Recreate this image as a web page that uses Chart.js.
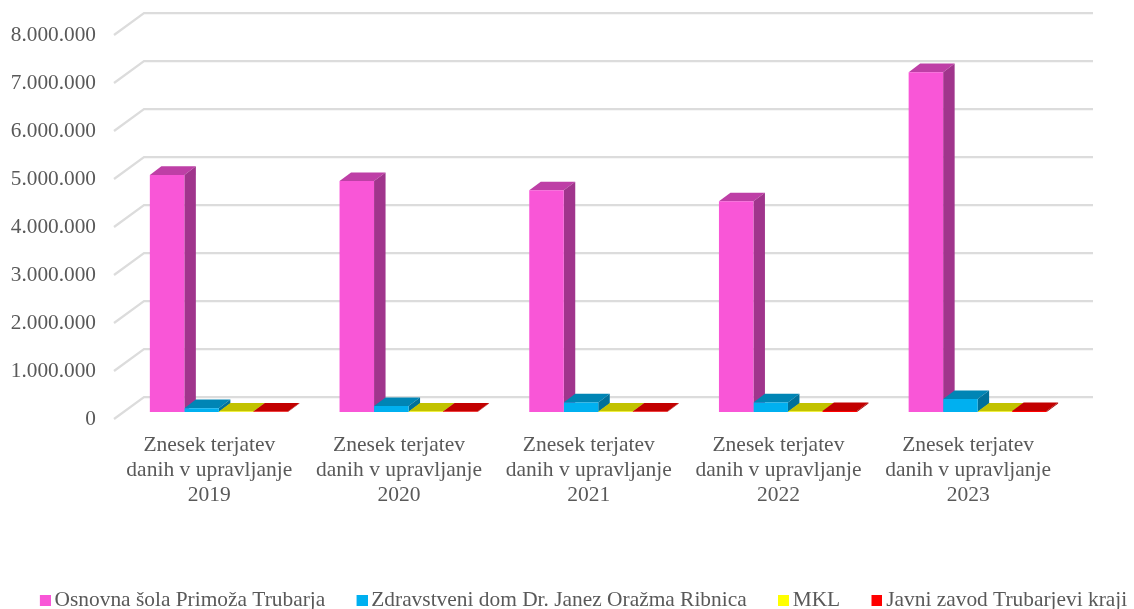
<!DOCTYPE html>
<html><head><meta charset="utf-8">
<style>html,body{margin:0;padding:0;background:#fff}canvas{display:block}</style>
<script src="https://cdn.jsdelivr.net/npm/chart.js@4"></script>
</head><body><canvas id="c" width="1134" height="609"></canvas>
<script>
const categories = [
  ['Znesek terjatev','danih v upravljanje','2019'],
  ['Znesek terjatev','danih v upravljanje','2020'],
  ['Znesek terjatev','danih v upravljanje','2021'],
  ['Znesek terjatev','danih v upravljanje','2022'],
  ['Znesek terjatev','danih v upravljanje','2023']
];
const seriesNames = ['Osnovna šola Primoža Trubarja','Zdravstveni dom Dr. Janez Oražma Ribnica','MKL','Javni zavod Trubarjevi kraji'];
const osnovnaSola = [4940000,4810000,4620000,4390000,7080000];
const zdravstveniDom = [80000,125000,200000,200000,270000];
const mkl = [8000,8000,8000,8000,8000];
const javniZavod = [8000,8000,8000,20000,20000];
const frontColors = ['#F956D7','#00B0F0','#FFFF00','#FF0000'];
const topColors = ['#BE3FA6','#0085B5','#C2C200','#C20000'];
const sideColors = ['#A0358C','#00709A','#A3A300','#A30000'];
const DEPTH_X = 11.5, DEPTH_Y = -8.6;

function swatch(color){
  const cv = document.createElement('canvas');
  cv.width = 14; cv.height = 11;
  const g = cv.getContext('2d');
  g.fillStyle = color;
  g.fillRect(3,0,11,11);
  return cv;
}

const threeD = {
  id:'threeD',
  afterLayout(chart){
    const lg = chart.legend;
    lg.maxWidth = 1400;
    lg.fit();
    lg.left = -229; lg.right = 1400;
    lg.top = 590 - lg.options.labels.padding;
    chart.scales.x.bottom = 570;
  },
  beforeDatasetsDraw(chart){
    const y = chart.scales.y, ctx = chart.ctx;
    ctx.save();
    ctx.strokeStyle = '#DCDCDC';
    ctx.lineWidth = 2.25;
    y.ticks.forEach(t => {
      const p = y.getPixelForValue(t.value);
      ctx.beginPath();
      ctx.moveTo(114, p + 7);
      ctx.lineTo(144, p - 15);
      ctx.lineTo(1093, p - 15);
      ctx.stroke();
    });
    chart.data.datasets.forEach((ds,i) => {
      chart.getDatasetMeta(i).data.forEach(b => {
        const l = b.x - b.width/2, r = b.x + b.width/2, t = b.y, bt = b.base;
        ctx.fillStyle = topColors[i];
        ctx.beginPath();
        ctx.moveTo(l,t); ctx.lineTo(l+DEPTH_X,t+DEPTH_Y); ctx.lineTo(r+DEPTH_X,t+DEPTH_Y); ctx.lineTo(r,t);
        ctx.closePath(); ctx.fill();
        ctx.fillStyle = sideColors[i];
        ctx.beginPath();
        ctx.moveTo(r,t); ctx.lineTo(r+DEPTH_X,t+DEPTH_Y); ctx.lineTo(r+DEPTH_X,bt+DEPTH_Y); ctx.lineTo(r,bt);
        ctx.closePath(); ctx.fill();
      });
    });
    ctx.restore();
  }
};

const allValues = [osnovnaSola, zdravstveniDom, mkl, javniZavod];
new Chart(document.getElementById('c'), {
  type:'bar',
  data:{
    labels:categories,
    datasets:seriesNames.map((n,i)=>({
      label:n, data:allValues[i], backgroundColor:frontColors[i], borderWidth:0,
      pointStyle:swatch(frontColors[i]),
      clip:false, categoryPercentage:0.7275, barPercentage:1
    }))
  },
  options:{
    responsive:false, animation:false,
    layout:{padding:{top:28,right:61.5,left:0,bottom:0}},
    plugins:{
      title:{display:false}, tooltip:{enabled:false},
      legend:{
        position:'bottom',
        labels:{
          usePointStyle:true, boxWidth:0.01, boxHeight:11, padding:35.3,
          color:'#595959', font:{family:'"Liberation Serif"',size:21.4}
        }
      }
    },
    scales:{
      x:{
        grid:{display:false,drawTicks:false}, border:{display:false},
        afterFit(s){ s.height = 609-412-s.chart.legend.height; s.paddingLeft=0; s.paddingRight=0; },
        ticks:{color:'#595959',font:{family:'"Liberation Serif"',size:21.5,lineHeight:1.16},maxRotation:0,autoSkip:false,padding:21,labelOffset:-9.5}
      },
      y:{
        min:0,max:8000000,
        grid:{display:false,drawTicks:false}, border:{display:false},
        afterFit(s){ s.width = 124; s.paddingTop=0; s.paddingBottom=0; },
        ticks:{stepSize:1000000,color:'#595959',font:{family:'"Liberation Serif"',size:21.3},padding:28,labelOffset:7.5,
          callback:v=>String(v).replace(/\B(?=(\d{3})+$)/g,'.')}
      }
    }
  },
  plugins:[threeD]
});
</script></body></html>
